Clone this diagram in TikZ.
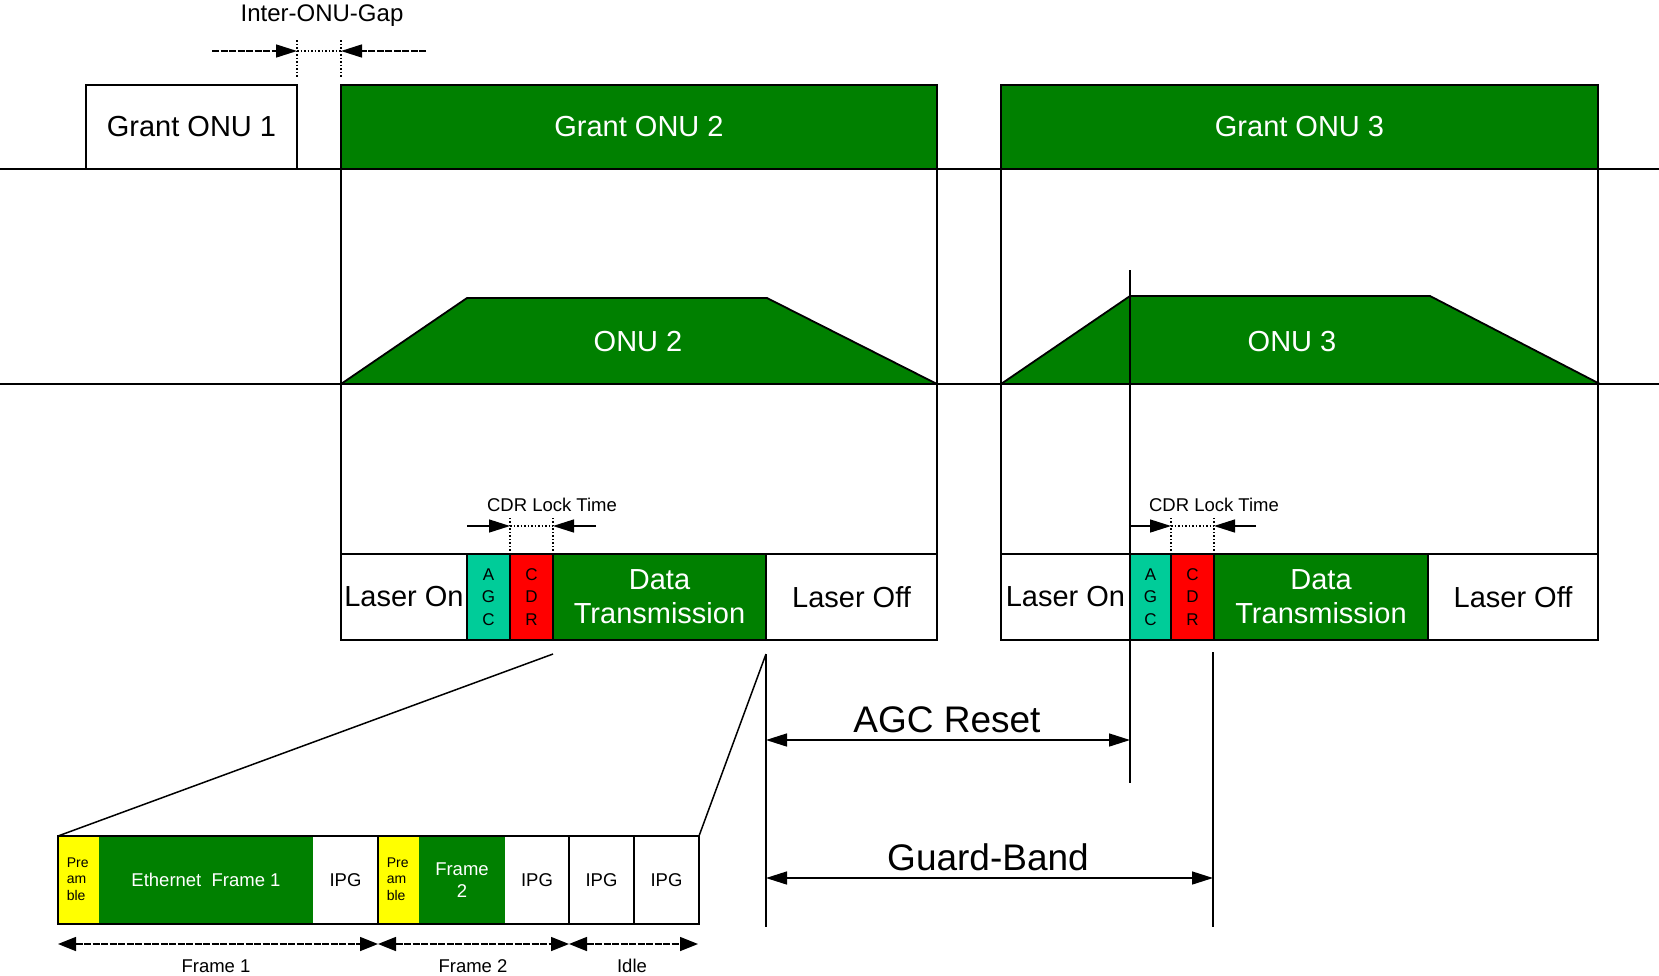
\documentclass[tikz,border=0pt]{standalone}
\usepackage{fontspec}
\setmainfont{Liberation Sans}
\usetikzlibrary{arrows.meta}
\definecolor{ggreen}{RGB}{0,128,0}
\definecolor{agccol}{RGB}{0,204,153}
\definecolor{cdrcol}{RGB}{255,0,0}
\definecolor{precol}{RGB}{255,255,0}
\begin{document}
\begin{tikzpicture}[x=1pt,y=-1pt,line width=1.5pt,
  box/.style={draw=black,line width=1.6pt,inner sep=0pt,outer sep=0pt,anchor=north west,align=center},
  fbox/.style={inner sep=0pt,outer sep=0pt,anchor=north west,align=center},
  bigf/.style={font=\fontsize{29}{34}\selectfont},
  hugef/.style={font=\fontsize{37}{42}\selectfont},
  gapf/.style={font=\fontsize{24}{28}\selectfont},
  midf/.style={font=\fontsize{18.5}{22}\selectfont},
  letf/.style={font=\fontsize{17}{22.5}\selectfont},
  smallf/.style={font=\fontsize{14}{16.5}\selectfont},
  tip/.style={-{Triangle[length=21pt,width=13pt]}},
  tips/.style={{Triangle[length=21pt,width=13pt]}-{Triangle[length=21pt,width=13pt]}},
  stips/.style={{Triangle[length=18pt,width=14pt]}-{Triangle[length=18pt,width=14pt]}},
  dotline/.style={line width=1.2pt,dash pattern=on 1.5pt off 2pt},
  dashline/.style={dash pattern=on 7pt off 1.5pt}]
\useasboundingbox (0,0) rectangle (1659,975);

% lane lines
\coordinate (l1a) at (0,169); \coordinate (l1b) at (1659,169);
\coordinate (l2a) at (0,384); \coordinate (l2b) at (1659,384);
\draw (l1a) -- (l1b);
\draw (l2a) -- (l2b);

% grants
\node[box,fill=white,bigf,minimum width=211,minimum height=84] (g1) at (86,85) {Grant ONU 1};
\node[box,fill=ggreen,text=white,bigf,minimum width=596,minimum height=84] (g2) at (341,85) {Grant ONU 2};
\node[box,fill=ggreen,text=white,bigf,minimum width=597,minimum height=84] (g3) at (1001,85) {Grant ONU 3};

% inter-ONU gap
\node[gapf] (gaplbl) at (322,16) {Inter-ONU-Gap};
\coordinate (gl) at (297,51); \coordinate (gr) at (341,51);
\coordinate (gls) at (212,51); \coordinate (grs) at (426,51);
\draw[dotline] (297,40) -- (297,78);
\draw[dotline] (341,40) -- (341,78);
\draw[dotline] (gl) -- (gr);
\draw[dashline,tip] (gls) -- (gl);
\draw[dashline,tip] (grs) -- (gr);

% trapezoids
\draw[fill=ggreen,line width=1.8pt] (341,384) -- (467,298) -- (767,298) -- (937,384) -- cycle;
\node[bigf,text=white] (onu2) at (638,342) {ONU 2};
\draw[fill=ggreen,line width=1.8pt] (1001,384) -- (1130,296) -- (1430,296) -- (1600,384) -- cycle;
\node[bigf,text=white] (onu3) at (1292,342) {ONU 3};

% ONU2 burst
\node[box,fill=white,bigf,minimum width=126,minimum height=86] (lon2) at (341,554) {Laser On};
\node[box,fill=agccol,letf,minimum width=43,minimum height=86] (agc2) at (467,554) {A\\G\\C};
\node[box,fill=cdrcol,letf,minimum width=43,minimum height=86] (cdr2) at (510,554) {C\\D\\R};
\node[box,fill=ggreen,text=white,bigf,minimum width=213,minimum height=86] (dt2) at (553,554) {Data\\Transmission};
\node[box,fill=white,bigf,minimum width=171,minimum height=86] (loff2) at (766,554) {Laser Off};

% ONU3 burst
\node[box,fill=white,bigf,minimum width=129,minimum height=86] (lon3) at (1001,554) {Laser On};
\node[box,fill=agccol,letf,minimum width=41,minimum height=86] (agc3) at (1130,554) {A\\G\\C};
\node[box,fill=cdrcol,letf,minimum width=43,minimum height=86] (cdr3) at (1171,554) {C\\D\\R};
\node[box,fill=ggreen,text=white,bigf,minimum width=214,minimum height=86] (dt3) at (1214,554) {Data\\Transmission};
\node[box,fill=white,bigf,minimum width=170,minimum height=86] (loff3) at (1428,554) {Laser Off};

% verticals from grants to bursts
\draw (g2.south west) -- (lon2.north west);
\draw (g2.south east) -- (loff2.north east);
\draw (g3.south west) -- (lon3.north west);
\draw (g3.south east) -- (loff3.north east);

% CDR lock time ONU2
\node[midf] (cdrl2) at (552,505) {CDR Lock Time};
\coordinate (c2a) at (510,526); \coordinate (c2b) at (553,526);
\draw[dotline] (cdr2.north west) -- (510,517);
\draw[dotline] (cdr2.north east) -- (553,517);
\draw[dotline] (c2a) -- (c2b);
\draw[tip,line width=1.4pt] (467,526) -- (c2a);
\draw[tip,line width=1.4pt] (596,526) -- (c2b);

% CDR lock time ONU3
\node[midf] (cdrl3) at (1214,505) {CDR Lock Time};
\coordinate (c3a) at (1171,526); \coordinate (c3b) at (1214,526);
\draw[dotline] (cdr3.north west) -- (1171,517);
\draw[dotline] (cdr3.north east) -- (1214,517);
\draw[dotline] (c3a) -- (c3b);
\draw[tip,line width=1.4pt] (1130,526) -- (c3a);
\draw[tip,line width=1.4pt] (1256,526) -- (c3b);

% AGC marker line ONU3
\coordinate (agctop) at (1130,270);
\coordinate (agcbot) at (1130,783);
\draw (agctop) -- (agcbot);

% frames detail
\node[fbox,fill=precol,minimum width=41,minimum height=88] (pre1) at (58,836) {};
\node[fbox,fill=ggreen,text=white,midf,minimum width=214,minimum height=88] (eth1) at (99,836) {Ethernet\ \ Frame 1};
\node[fbox,fill=white,midf,minimum width=65,minimum height=88] (ipg1) at (313,836) {IPG};
\node[box,minimum width=320,minimum height=88] (fr1) at (58,836) {};
\node[smallf,align=left,anchor=west,inner sep=0pt] (pre1t) at (66,879) {Pre\\am\\ble};

\node[fbox,fill=precol,minimum width=41,minimum height=88] (pre2) at (378,836) {};
\node[fbox,fill=ggreen,text=white,midf,minimum width=86,minimum height=88] (eth2) at (419,836) {Frame\\2};
\node[fbox,fill=white,midf,minimum width=64,minimum height=88] (ipg2) at (505,836) {IPG};
\node[box,minimum width=191,minimum height=88] (fr2) at (378,836) {};
\node[smallf,align=left,anchor=west,inner sep=0pt] (pre2t) at (386,879) {Pre\\am\\ble};

\node[box,fill=white,midf,minimum width=65,minimum height=88] (ipg3) at (569,836) {IPG};
\node[box,fill=white,midf,minimum width=65,minimum height=88] (ipg4) at (634,836) {IPG};

% zoom lines
\coordinate (zl) at (553,654);
\coordinate (zr) at (766,654);
\draw (zl) -- (fr1.north west);
\draw (zr) -- (ipg4.north east);

% frame arrows
\coordinate (fa0) at (58,944); \coordinate (fa1) at (378,944);
\coordinate (fa2) at (569,944); \coordinate (fa3) at (698,944);
\draw[dashline,stips] (fa0) -- (fa1);
\draw[dashline,stips] (fa1) -- (fa2);
\draw[dashline,stips] (fa2) -- (fa3);
\node[midf] (fl1) at (216,966) {Frame 1};
\node[midf] (fl2) at (473,966) {Frame 2};
\node[midf] (fl3) at (632,966) {Idle};

% guard band / AGC reset
\coordinate (gbtop) at (766,654); \coordinate (gbbot) at (766,927);
\coordinate (gb2top) at (1213,652); \coordinate (gb2bot) at (1213,927);
\draw (gbtop) -- (gbbot);
\draw (gb2top) -- (gb2bot);
\coordinate (ar1) at (766,740); \coordinate (ar2) at (1130,740);
\draw[tips] (ar1) -- (ar2);
\node[hugef] (agcr) at (947,720) {AGC Reset};
\coordinate (gb1) at (766,878); \coordinate (gb2) at (1213,878);
\draw[tips] (gb1) -- (gb2);
\node[hugef] (gbl) at (988,857) {Guard-Band};
\end{tikzpicture}
\end{document}
